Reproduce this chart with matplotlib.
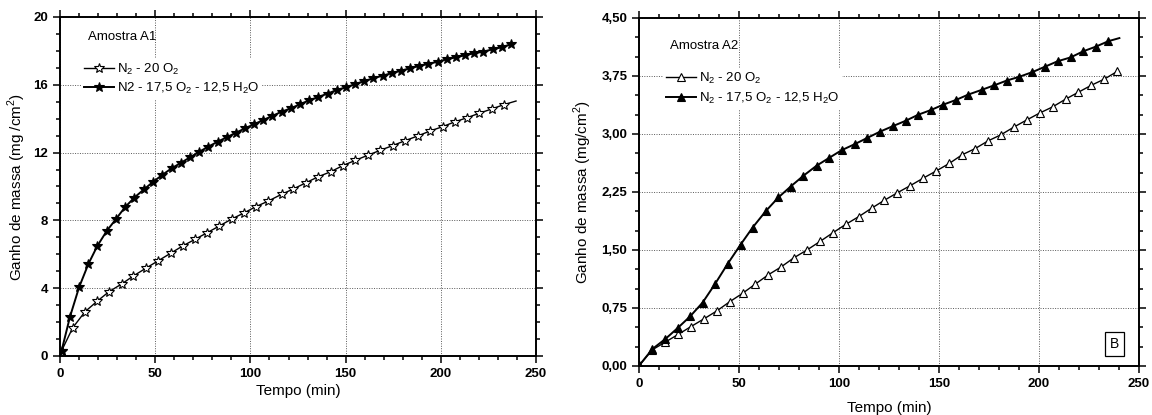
import numpy as np
import matplotlib
matplotlib.use('Agg')
import matplotlib.pyplot as plt
from matplotlib.ticker import MultipleLocator, FuncFormatter

plt.rcParams['font.family'] = ['Liberation Sans', 'DejaVu Sans']
plt.rcParams['mathtext.fontset'] = 'custom'
plt.rcParams['mathtext.rm'] = 'Liberation Sans'

# Amostra A1
tA1_seco = [0.8, 6.7, 13.1, 19.6, 25.7, 32.4, 38.5, 45, 51.6, 58.1, 64.4, 70.9, 77.4, 83.7, 90.2,
            96.8, 102.9, 109.4, 116.4, 122.5, 129.2, 135.7, 142.2, 148.5, 155.1, 161.6, 168.1,
            174.7, 181.2, 187.9, 194.3, 201, 207.3, 213.9, 220.2, 226.7, 233.2, 239.5]
mA1_seco = [0.3, 1.67, 2.61, 3.24, 3.79, 4.25, 4.72, 5.17, 5.62, 6.06, 6.49, 6.88, 7.28, 7.67, 8.08,
            8.45, 8.81, 9.14, 9.54, 9.85, 10.22, 10.58, 10.87, 11.23, 11.54, 11.84, 12.13,
            12.41, 12.70, 12.98, 13.27, 13.53, 13.81, 14.06, 14.32, 14.57, 14.83, 15.04]
tA1_umido = [0.8, 5.25, 10, 14.9, 19.6, 24.5, 29.4, 34.1, 39, 44.1, 49, 53.7, 58.6, 63.6, 68.3,
             73.2, 77.9, 82.8, 87.5, 92.4, 97.2, 101.9, 106.8, 111.5, 116.4, 121.3, 126, 130.9,
             135.7, 140.6, 145.3, 150.2, 154.9, 159.8, 164.6, 169.5, 174.2, 179.1, 183.8, 188.7,
             193.4, 198.4, 203.1, 208, 212.7, 217.6, 222.3, 227.2, 232, 236.9]
mA1_umido = [0.3, 2.32, 4.05, 5.43, 6.49, 7.37, 8.08, 8.77, 9.34, 9.83, 10.28, 10.68, 11.07, 11.4,
             11.72, 12.05, 12.35, 12.64, 12.9, 13.17, 13.43, 13.67, 13.92, 14.16, 14.41, 14.61,
             14.85, 15.08, 15.28, 15.48, 15.69, 15.85, 16.03, 16.22, 16.38, 16.54, 16.68, 16.83,
             16.97, 17.11, 17.23, 17.36, 17.5, 17.62, 17.74, 17.86, 17.95, 18.09, 18.21, 18.39]

# Amostra A2
tA2_seco = [0.2, 6.7, 13.2, 19.7, 26, 32.5, 38.8, 45.3, 51.8, 58.2, 64.7, 71, 77.5, 84, 90.5, 96.8,
            103.3, 109.8, 116.3, 122.5, 129.2, 135.5, 142.2, 148.5, 155.2, 161.5, 168, 174.5,
            181, 187.5, 193.8, 200.3, 206.8, 213.3, 219.7, 226.2, 232.7, 239.2]
mA2_seco = [0.01, 0.21, 0.31, 0.41, 0.51, 0.61, 0.71, 0.83, 0.94, 1.06, 1.18, 1.28, 1.40, 1.50,
            1.61, 1.72, 1.83, 1.93, 2.04, 2.14, 2.24, 2.33, 2.43, 2.52, 2.62, 2.73, 2.81, 2.91,
            2.99, 3.09, 3.18, 3.27, 3.35, 3.45, 3.54, 3.63, 3.71, 3.81]
tA2_umido = [0.2, 6.7, 13.2, 19.3, 25.5, 31.8, 38, 44.3, 50.8, 56.8, 63.3, 69.7, 75.8, 82.2, 88.8,
             95, 101.3, 108, 114.2, 120.5, 126.8, 133.3, 139.7, 146, 152.2, 158.5, 164.7, 171.3,
             177.7, 183.8, 190.2, 196.7, 203, 209.3, 215.8, 222.2, 228.5, 234.7, 240.2]
mA2_umido = [0.01, 0.22, 0.35, 0.49, 0.64, 0.82, 1.06, 1.32, 1.57, 1.79, 2.0, 2.18, 2.32, 2.46,
             2.59, 2.69, 2.79, 2.87, 2.95, 3.03, 3.10, 3.17, 3.25, 3.31, 3.38, 3.44, 3.51, 3.57,
             3.63, 3.69, 3.74, 3.80, 3.87, 3.94, 3.99, 4.07, 4.13, 4.20, 4.24]

fig = plt.figure(figsize=(11.52, 4.15), dpi=100)
ax1 = fig.add_axes([0.0521, 0.1422, 0.4132, 0.8170])
ax2 = fig.add_axes([0.5547, 0.1181, 0.4340, 0.8386])


def estilo(ax):
    for s in ax.spines.values():
        s.set_linewidth(1.4)
    ax.tick_params(which='both', direction='out', top=True, right=True, width=1.1)
    ax.tick_params(which='major', length=5, labelsize=9.5)
    ax.tick_params(which='minor', length=3)
    for lab in ax.get_xticklabels() + ax.get_yticklabels():
        lab.set_fontweight('bold')
    ax.grid(True, which='major', linestyle=(0, (1, 1.5)), color='0.35', linewidth=0.7)
    ax.set_axisbelow(True)


ax1.plot(tA1_seco, mA1_seco, '-', color='black', lw=1.0, marker='*', ms=7.5,
         mfc='white', mec='black', mew=0.8, markevery=slice(0, -1),
         label=r'N$_2$ - 20 O$_2$')
ax1.plot(tA1_umido, mA1_umido, '-', color='black', lw=1.4, marker='*', ms=7.5,
         mfc='black', mec='black', mew=0.8, label=r'N2 - 17,5 O$_2$ - 12,5 H$_2$O')
ax1.set_xlim(0, 250)
ax1.set_ylim(0, 20)
ax1.xaxis.set_major_locator(MultipleLocator(50))
ax1.xaxis.set_minor_locator(MultipleLocator(10))
ax1.yaxis.set_major_locator(MultipleLocator(4))
ax1.yaxis.set_minor_locator(MultipleLocator(1))
estilo(ax1)
ax1.set_xlabel('Tempo (min)', fontsize=11, labelpad=3)
ax1.set_ylabel('Ganho de massa (mg /cm$^2$)', fontsize=11, labelpad=4)
ax1.text(0.059, 0.94, 'Amostra A1', transform=ax1.transAxes, fontsize=9.5, va='center')
leg1 = ax1.legend(loc='upper left', bbox_to_anchor=(0.03, 0.895), fontsize=9.5, numpoints=1,
                  handlelength=2.3, handletextpad=0.2, labelspacing=0.3, borderpad=0.2,
                  frameon=True, fancybox=False, framealpha=1)
leg1.get_frame().set_edgecolor('none')

ax2.plot(tA2_seco, mA2_seco, '-', color='black', lw=1.0, marker='^', ms=6,
         mfc='white', mec='black', mew=0.8, label=r'N$_2$ - 20 O$_2$')
ax2.plot(tA2_umido, mA2_umido, '-', color='black', lw=1.4, marker='^', ms=6,
         mfc='black', mec='black', mew=0.8, markevery=slice(0, -1),
         label=r'N$_2$ - 17,5 O$_2$ - 12,5 H$_2$O')
ax2.set_xlim(0, 250)
ax2.set_ylim(0, 4.5)
ax2.xaxis.set_major_locator(MultipleLocator(50))
ax2.xaxis.set_minor_locator(MultipleLocator(10))
ax2.yaxis.set_major_locator(MultipleLocator(0.75))
ax2.yaxis.set_minor_locator(MultipleLocator(0.25))
ax2.yaxis.set_major_formatter(FuncFormatter(lambda v, p: f'{v:.2f}'.replace('.', ',')))
estilo(ax2)
ax2.set_xlabel('Tempo (min)', fontsize=11, labelpad=8)
ax2.set_ylabel('Ganho de massa (mg/cm$^2$)', fontsize=11, labelpad=5)
ax2.text(0.062, 0.92, 'Amostra A2', transform=ax2.transAxes, fontsize=9.5, va='center')
leg2 = ax2.legend(loc='upper left', bbox_to_anchor=(0.035, 0.875), fontsize=9.5, numpoints=1,
                  handlelength=2.3, handletextpad=0.2, labelspacing=0.4, borderpad=0.2,
                  frameon=True, fancybox=False, framealpha=1)
leg2.get_frame().set_edgecolor('none')
ax2.text(0.952, 0.063, 'B', transform=ax2.transAxes, fontsize=10, ha='center', va='center',
         bbox=dict(boxstyle='square,pad=0.35', fc='white', ec='black', lw=0.9))

fig.savefig('out.png', dpi=100)
